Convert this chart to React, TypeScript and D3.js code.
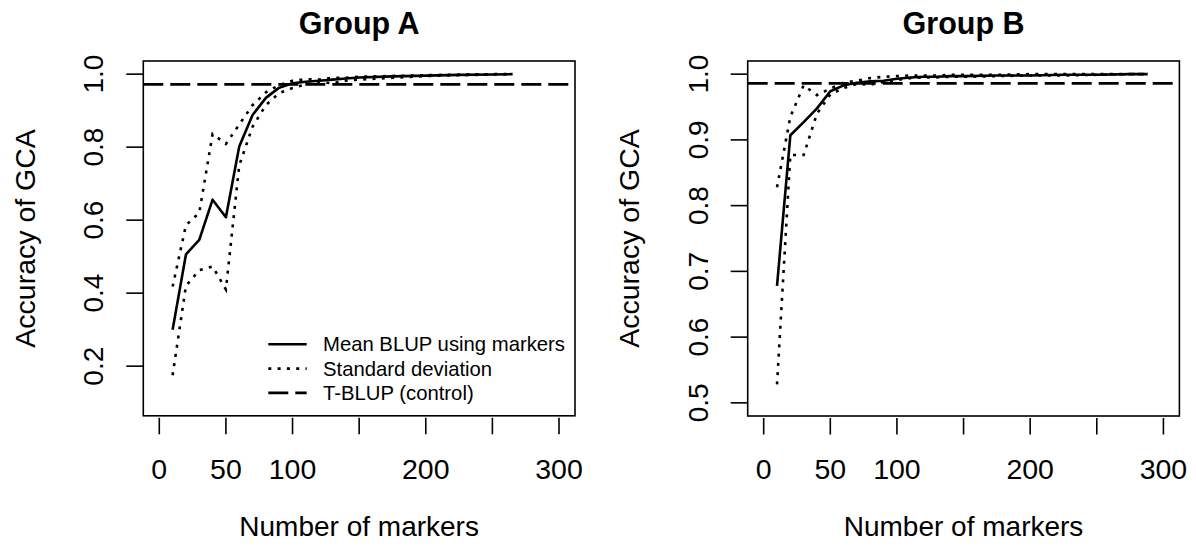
import React from 'react';
import * as d3 from 'd3';

// ---- data ----
const markersA = [10, 20, 30, 40, 50, 60, 70, 80, 90, 100, 110, 120, 130, 140, 150, 175, 200, 225, 250, 265];
const meanA = [0.300, 0.506, 0.546, 0.656, 0.608, 0.802, 0.888, 0.935, 0.963, 0.975, 0.979, 0.982, 0.985, 0.988, 0.991, 0.994, 0.996, 0.998, 0.999, 1.0];
const upperA = [0.418, 0.586, 0.620, 0.836, 0.809, 0.862, 0.915, 0.950, 0.970, 0.982, 0.986, 0.985, 0.990, 0.990, 0.993, 0.995, 0.997, 0.999, 1.0, 1.0];
const lowerA = [0.175, 0.420, 0.463, 0.473, 0.410, 0.750, 0.856, 0.915, 0.948, 0.962, 0.972, 0.978, 0.975, 0.982, 0.985, 0.990, 0.995, 0.997, 0.999, 1.0];
const controlA = 0.972;

const markersB = [10, 20, 30, 40, 50, 60, 70, 80, 90, 100, 110, 120, 130, 140, 150, 175, 200, 225, 250, 275, 288];
const meanB = [0.678, 0.907, 0.927, 0.948, 0.974, 0.983, 0.987, 0.989, 0.990, 0.993, 0.995, 0.996, 0.996, 0.997, 0.997, 0.998, 0.998, 0.999, 0.999, 1.0, 1.0];
const upperB = [0.828, 0.935, 0.983, 0.968, 0.978, 0.987, 0.990, 0.994, 0.996, 0.997, 0.998, 0.998, 0.998, 0.999, 0.999, 0.999, 1.0, 1.0, 1.0, 1.0, 1.0];
const lowerB = [0.528, 0.877, 0.877, 0.940, 0.969, 0.979, 0.985, 0.984, 0.988, 0.991, 0.994, 0.995, 0.995, 0.996, 0.996, 0.997, 0.998, 0.998, 0.999, 1.0, 1.0];
const controlB = 0.986;

const xDomain = [-12, 312];
const yDomainA = [0.064, 1.036];
const yDomainB = [0.48, 1.02];
const xTicks = [0, 50, 100, 150, 200, 250, 300];
const xTickLabels = ['0', '50', '100', '', '200', '', '300'];
const yTicksA = [0.2, 0.4, 0.6, 0.8, 1.0];
const yTicksB = [0.5, 0.6, 0.7, 0.8, 0.9, 1.0];
const legendLabels = ['Mean BLUP using markers', 'Standard deviation', 'T-BLUP (control)'];
const xTitle = 'Number of markers';
const yTitle = 'Accuracy of GCA';

// ---- style ----
const FONT = "'Liberation Sans', Arial, Helvetica, sans-serif";
const INK = '#000';
const SOLID_W = 2.6;
const DOT = '3 6.3';
const DASH = '20 7';

type PanelProps = {
  title: string;
  left: number;
  right: number;
  top: number;
  bottom: number;
  yDomain: number[];
  yTicks: number[];
  markers: number[];
  mean: number[];
  upper: number[];
  lower: number[];
  control: number;
  legend: boolean;
};

function Panel(p: PanelProps) {
  const x = d3.scaleLinear().domain(xDomain).range([p.left, p.right]);
  const y = d3.scaleLinear().domain(p.yDomain).range([p.bottom, p.top]);
  const line = d3
    .line<number>()
    .x((_, i) => x(p.markers[i]))
    .y((d) => y(d));
  const cx = (p.left + p.right) / 2;
  const cy = (p.top + p.bottom) / 2;
  const fmt = d3.format('.1f');
  const clipId = 'clip-' + p.title.replace(/\s/g, '');
  return (
    <g>
      <defs>
        <clipPath id={clipId}>
          <rect x={p.left} y={p.top} width={p.right - p.left} height={p.bottom - p.top} />
        </clipPath>
      </defs>
      <text x={cx} y={34.3} textAnchor="middle" fontFamily={FONT} fontWeight="bold" fontSize={30.5} fill={INK}>
        {p.title}
      </text>
      {/* data */}
      <g clipPath={`url(#${clipId})`}>
        <line
          x1={p.left}
          x2={p.right}
          y1={y(p.control)}
          y2={y(p.control)}
          stroke={INK}
          strokeWidth={2.8}
          strokeDasharray={DASH}
        />
        <path d={line(p.upper) || ''} fill="none" stroke={INK} strokeWidth={SOLID_W} strokeDasharray={DOT} />
        <path d={line(p.lower) || ''} fill="none" stroke={INK} strokeWidth={SOLID_W} strokeDasharray={DOT} />
        <path d={line(p.mean) || ''} fill="none" stroke={INK} strokeWidth={SOLID_W} strokeLinejoin="round" />
      </g>
      {/* box */}
      <rect
        x={p.left}
        y={p.top}
        width={p.right - p.left}
        height={p.bottom - p.top}
        fill="none"
        stroke={INK}
        strokeWidth={1.6}
      />
      {/* x axis */}
      {xTicks.map((t, i) => (
        <g key={'xt' + t}>
          <line x1={x(t)} x2={x(t)} y1={p.bottom + 2} y2={p.bottom + 18.5} stroke={INK} strokeWidth={1.6} />
          {xTickLabels[i] !== '' && (
            <text x={x(t)} y={479} textAnchor="middle" fontFamily={FONT} fontSize={28.5} fill={INK}>
              {xTickLabels[i]}
            </text>
          )}
        </g>
      ))}
      <text x={cx} y={536} textAnchor="middle" fontFamily={FONT} fontSize={28} fill={INK}>
        {xTitle}
      </text>
      {/* y axis */}
      {p.yTicks.map((t) => (
        <g key={'yt' + t}>
          <line x1={p.left - 17} x2={p.left} y1={y(t)} y2={y(t)} stroke={INK} strokeWidth={1.6} />
          <text
            transform={`translate(${p.left - 40},${y(t)}) rotate(-90)`}
            textAnchor="middle"
            fontFamily={FONT}
            fontSize={28}
            fill={INK}
          >
            {fmt(t)}
          </text>
        </g>
      ))}
      <text
        transform={`translate(${p.left - 108.4},${cy}) rotate(-90)`}
        textAnchor="middle"
        fontFamily={FONT}
        fontSize={28.5}
        fill={INK}
      >
        {yTitle}
      </text>
      {p.legend && (
        <g>
          {legendLabels.map((lab, i) => {
            const ly = 344.3 + i * 24.3;
            const dash = i === 0 ? undefined : i === 1 ? DOT : DASH;
            return (
              <g key={lab}>
                <line
                  x1={268.3}
                  x2={306.7}
                  y1={ly}
                  y2={ly}
                  stroke={INK}
                  strokeWidth={i === 2 ? 2.8 : SOLID_W}
                  strokeDasharray={dash}
                />
                <text x={323} y={ly + 7} fontFamily={FONT} fontSize={20.3} fill={INK}>
                  {lab}
                </text>
              </g>
            );
          })}
        </g>
      )}
    </g>
  );
}

export default function App() {
  return (
    <svg
      width={1196}
      height={547}
      style={{ position: 'absolute', left: 0, top: 0, background: '#fff' }}
    >
      <rect x={0} y={0} width={1196} height={547} fill="#fff" />
      <Panel
        title="Group A"
        left={143.3}
        right={575}
        top={61}
        bottom={415.8}
        yDomain={yDomainA}
        yTicks={yTicksA}
        markers={markersA}
        mean={meanA}
        upper={upperA}
        lower={lowerA}
        control={controlA}
        legend={true}
      />
      <Panel
        title="Group B"
        left={747.7}
        right={1179.4}
        top={61}
        bottom={416}
        yDomain={yDomainB}
        yTicks={yTicksB}
        markers={markersB}
        mean={meanB}
        upper={upperB}
        lower={lowerB}
        control={controlB}
        legend={false}
      />
    </svg>
  );
}
